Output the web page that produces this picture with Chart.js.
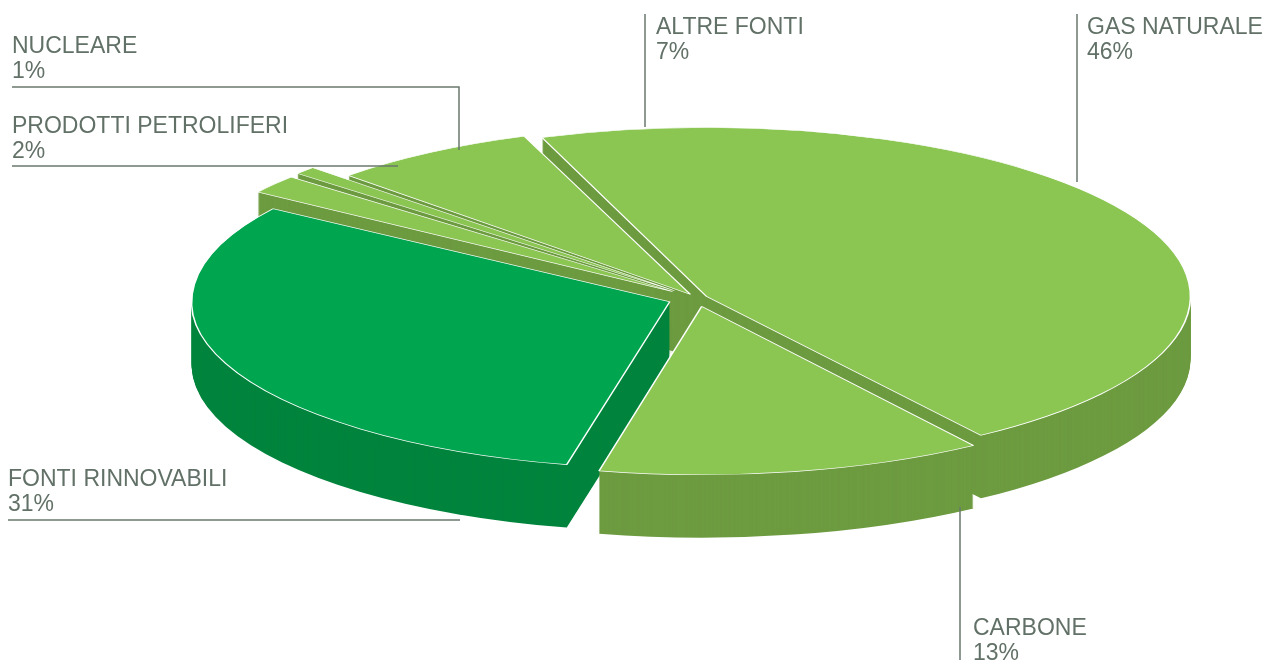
<!DOCTYPE html>
<html>
<head>
<meta charset="utf-8">
<script src="https://cdn.jsdelivr.net/npm/chart.js@4.4.1/dist/chart.umd.min.js"></script>
<style>
    html, body { margin: 0; padding: 0; background: #fff; }
    #wrap { width: 1269px; height: 660px; }
</style>
</head>
<body>
<div id="wrap"><canvas id="energyPie" width="1269" height="660"></canvas></div>
<script>
const sourceLabels = ["GAS NATURALE", "CARBONE", "FONTI RINNOVABILI", "PRODOTTI PETROLIFERI", "NUCLEARE", "ALTRE FONTI"];
const sourceShares = [46, 13, 31, 2, 1, 7];

const topColors = ["#8bc653", "#8bc653", "#00a64f", "#8bc653", "#8bc653", "#8bc653"];
const sideColors = ["#6d9b40", "#6d9b40", "#00843d", "#6d9b40", "#6d9b40", "#6d9b40"];
const sliceOffsets = [26, 60, 72, 76, 76, 30];

const PIE_ROTATION = -20;
const TILT = { cx: 697, cy: 298, rx: 476, ry: 166, depth: 63 };

// text anchor (x, first baseline) and leader line for each label, same order as sourceLabels
const labelSpots = [
    { x: 1087, y: 34, line: [[1077, 14], [1077, 182]] },
    { x: 973, y: 635, line: [[960, 507], [960, 660]] },
    { x: 8, y: 486, line: [[8, 520], [460, 520]] },
    { x: 12, y: 133, line: [[12, 166], [398, 166]] },
    { x: 12, y: 53, line: [[12, 87], [459, 87], [459, 150]] },
    { x: 656, y: 34, line: [[645, 14], [645, 127]] },
];

function tiltMatrix(arc) {
    const sx = TILT.rx / arc.outerRadius;
    const sy = TILT.ry / arc.outerRadius;
    return [sx, 0, 0, sy, TILT.cx - arc.x * sx, TILT.cy - arc.y * sy];
}

function midDepth(arc) {
    return Math.sin((arc.startAngle + arc.endAngle) / 2);
}

const tiltPlugin = {
    id: "tilt3d",
    beforeDatasetsDraw(chart) {
        const ctx = chart.ctx;
        const arcs = chart.getDatasetMeta(0).data;
        const m = tiltMatrix(arcs[0]);
        const order = arcs.map((a, i) => i).sort((i, j) => midDepth(arcs[i]) - midDepth(arcs[j]));

        ctx.save();
        order.forEach((i) => {
            const arc = arcs[i];
            const own = arc.options;
            arc.options = Object.assign({}, own, { backgroundColor: sideColors[i], borderWidth: 0 });
            for (let dy = TILT.depth; dy >= 1; dy--) {
                ctx.setTransform(m[0], m[1], m[2], m[3], m[4], m[5] + dy);
                arc.draw(ctx);
            }
            arc.options = own;
        });
        ctx.restore();

        // tops are drawn by chart.js itself, squashed into the same ellipse
        ctx.save();
        ctx.setTransform(m[0], m[1], m[2], m[3], m[4], m[5]);
    },
    afterDatasetsDraw(chart) {
        chart.ctx.restore();
    },
};

const labelPlugin = {
    id: "sideLabels",
    afterDraw(chart) {
        const ctx = chart.ctx;
        ctx.save();
        ctx.strokeStyle = "#68786d";
        ctx.lineWidth = 1.5;
        labelSpots.forEach((spot) => {
            ctx.beginPath();
            spot.line.forEach(([x, y], k) => (k ? ctx.lineTo(x, y) : ctx.moveTo(x, y)));
            ctx.stroke();
        });
        ctx.fillStyle = "#627167";
        ctx.font = "23px 'Liberation Sans', Arial, sans-serif";
        ctx.textBaseline = "alphabetic";
        sourceLabels.forEach((name, i) => {
            const spot = labelSpots[i];
            ctx.fillText(name, spot.x, spot.y);
            ctx.fillText(`${sourceShares[i]}%`, spot.x, spot.y + 25);
        });
        ctx.restore();
    },
};

new Chart(document.getElementById("energyPie").getContext("2d"), {
    type: "pie",
    data: {
        labels: sourceLabels,
        datasets: [{
            data: sourceShares,
            backgroundColor: topColors,
            borderColor: "#ffffff",
            borderWidth: 1,
            offset: sliceOffsets,
            clip: false,
        }],
    },
    options: {
        responsive: false,
        animation: false,
        rotation: PIE_ROTATION,
        events: [],
        plugins: { legend: { display: false }, tooltip: { enabled: false } },
    },
    plugins: [tiltPlugin, labelPlugin],
});
</script>
</body>
</html>
